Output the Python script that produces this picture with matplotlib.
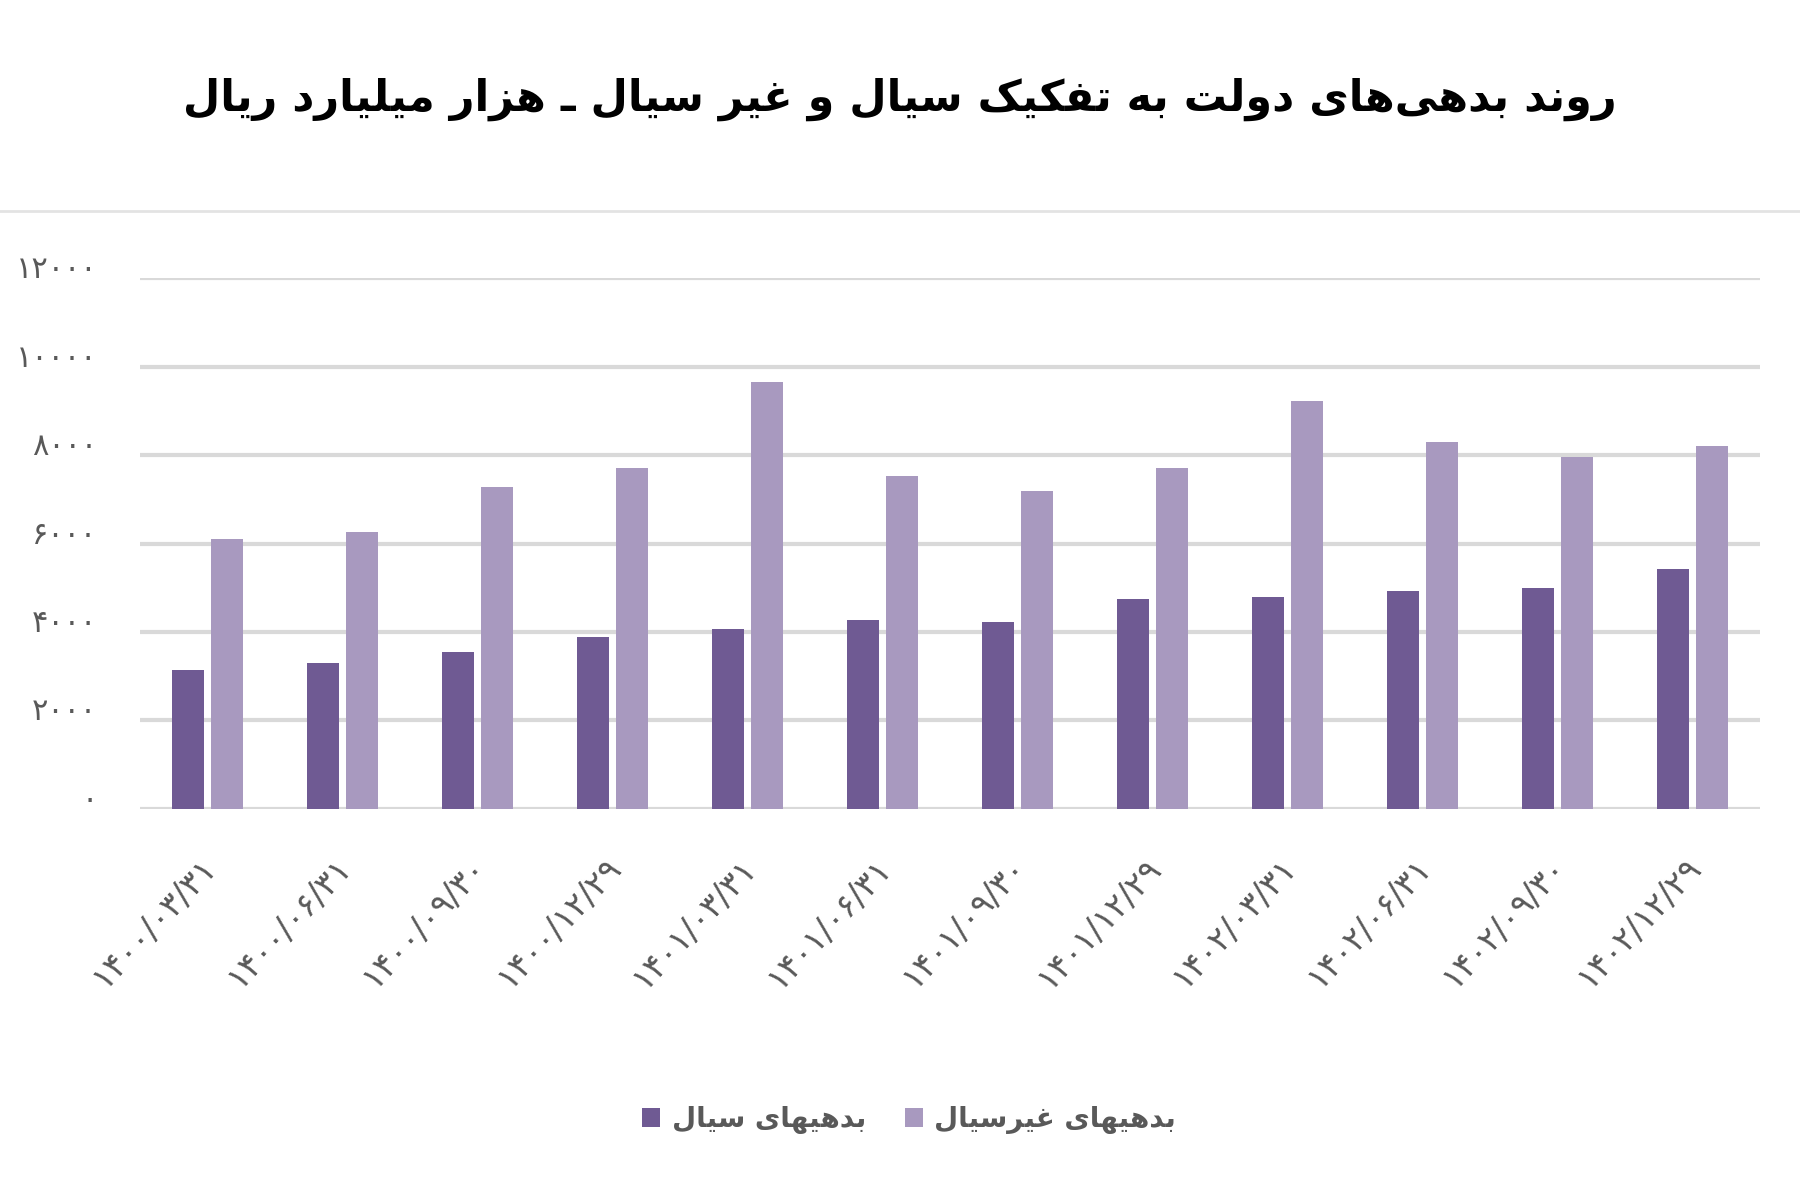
import matplotlib
matplotlib.use("Agg")
import matplotlib.pyplot as plt
import numpy as np

plt.rcParams['font.family'] = ['DejaVu Sans']

# data (thousand billion rials)
dates = ["1400/03/31", "1400/06/31", "1400/09/30", "1400/12/29",
         "1401/03/31", "1401/06/31", "1401/09/30", "1401/12/29",
         "1402/03/31", "1402/06/31", "1402/09/30", "1402/12/29"]
current_debt = [3150, 3290, 3550, 3880, 4060, 4280, 4220, 4740, 4790, 4920, 5000, 5420]
noncurrent_debt = [6110, 6270, 7280, 7720, 9660, 7540, 7180, 7720, 9220, 8290, 7950, 8210]
yticks = [0, 2000, 4000, 6000, 8000, 10000, 12000]

title_txt = "روند بدهی‌های دولت به تفکیک سیال و غیر سیال ـ هزار میلیارد ریال"
label_current = "بدهیهای سیال"
label_noncurrent = "بدهیهای غیرسیال"

# --- tiny persian shaper (matplotlib has no text shaping) ---
# char: (isolated, final, initial, medial); two entries -> joins only to the right
FORMS = {
    'ا': (0xFE8D, 0xFE8E), 'د': (0xFEA9, 0xFEAA), 'ر': (0xFEAD, 0xFEAE),
    'ز': (0xFEAF, 0xFEB0), 'و': (0xFEED, 0xFEEE),
    'ب': (0xFE8F, 0xFE90, 0xFE91, 0xFE92), 'ت': (0xFE95, 0xFE96, 0xFE97, 0xFE98),
    'س': (0xFEB1, 0xFEB2, 0xFEB3, 0xFEB4), 'غ': (0xFECD, 0xFECE, 0xFECF, 0xFED0),
    'ف': (0xFED1, 0xFED2, 0xFED3, 0xFED4), 'ل': (0xFEDD, 0xFEDE, 0xFEDF, 0xFEE0),
    'م': (0xFEE1, 0xFEE2, 0xFEE3, 0xFEE4), 'ن': (0xFEE5, 0xFEE6, 0xFEE7, 0xFEE8),
    'ه': (0xFEE9, 0xFEEA, 0xFEEB, 0xFEEC), 'ی': (0xFBFC, 0xFBFD, 0xFBFE, 0xFBFF),
    'ک': (0xFB8E, 0xFB8F, 0xFB90, 0xFB91),
}


def shape(text):
    # lam + alef ligature first
    chars = []
    i = 0
    while i < len(text):
        if text[i] == 'ل' and i + 1 < len(text) and text[i + 1] == 'ا':
            chars.append('LA')
            i += 2
        else:
            chars.append(text[i])
            i += 1

    def dual(c):
        return c in FORMS and len(FORMS[c]) == 4

    def joins(c):
        return c in FORMS or c == 'LA'

    out = []
    for k, c in enumerate(chars):
        prev = chars[k - 1] if k > 0 else None
        nxt = chars[k + 1] if k + 1 < len(chars) else None
        join_prev = prev is not None and dual(prev) and joins(c)
        if c == 'LA':
            out.append(chr(0xFEFC if join_prev else 0xFEFB))
            continue
        if c not in FORMS:
            if c != '\u200c':
                out.append(c)
            continue
        f = FORMS[c]
        join_next = dual(c) and nxt is not None and joins(nxt)
        if join_prev and join_next:
            out.append(chr(f[3]))
        elif join_prev:
            out.append(chr(f[1]))
        elif join_next:
            out.append(chr(f[2]))
        else:
            out.append(chr(f[0]))
    return ''.join(reversed(out))


def fa_digits(s):
    return ''.join(chr(0x06F0 + int(ch)) if ch.isdigit() else ch for ch in s)


dark = '#6F5A93'
light = '#A899BF'
grid_c = '#D9D9D9'
text_c = '#595959'

fig = plt.figure(figsize=(18, 12), dpi=100)
ax = fig.add_axes([0.078, 0.326, 0.9, 0.442])

x = np.arange(len(dates))
w = 0.235
ax.bar(x - 0.145, current_debt, w, color=dark, label=shape(label_current), zorder=3)
ax.bar(x + 0.14, noncurrent_debt, w, color=light, label=shape(label_noncurrent), zorder=3)

ax.set_xlim(-0.5, len(dates) - 0.5)
ax.set_ylim(0, 12000)
ax.set_yticks(yticks)
# baseline alignment puts the numbers a little above the grid lines
ax.set_yticklabels([fa_digits(str(v)) for v in yticks], fontsize=22, color=text_c,
                   va='baseline')
for v in yticks:
    ax.axhline(v, color=grid_c, lw=3, zorder=1)
for s in ax.spines.values():
    s.set_visible(False)
ax.tick_params(axis='y', length=0, pad=31)
ax.tick_params(axis='x', length=0, pad=30)

ax.set_xticks(x - 0.07)
ax.set_xticklabels([fa_digits(d) for d in dates], rotation=47, ha='right',
                   rotation_mode='anchor', fontsize=24, color=text_c)

# separator line under title
fig.add_artist(plt.Line2D([0, 1], [1 - 211 / 1200] * 2, color='#E3E3E3', lw=2))

fig.text(0.5, 0.917, shape(title_txt), ha='center', va='center',
         fontsize=31, fontweight='bold', color='black')

leg = fig.legend(loc='center', bbox_to_anchor=(0.505, 0.067), ncol=2, frameon=False,
                 prop={'size': 20, 'weight': 'bold'}, handlelength=0.65, handleheight=0.65,
                 columnspacing=1.4, handletextpad=0.4)
for t in leg.get_texts():
    t.set_color(text_c)

fig.savefig('out.png', dpi=100, facecolor='white')
